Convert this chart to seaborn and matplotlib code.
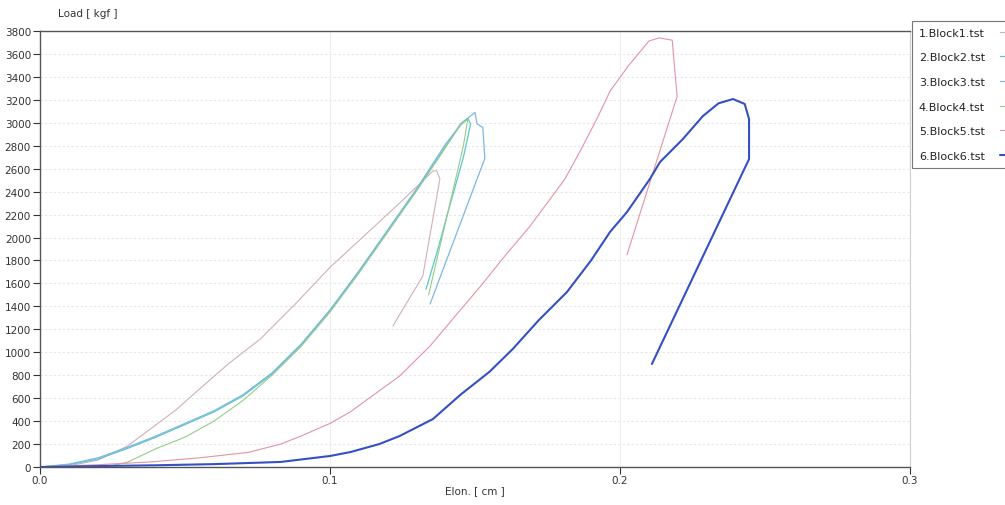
import matplotlib
matplotlib.use("Agg")
import matplotlib.pyplot as plt
import seaborn as sns
import pandas as pd
from matplotlib.lines import Line2D

# ---- data ----
names = ["1.Block1.tst", "2.Block2.tst", "3.Block3.tst",
         "4.Block4.tst", "5.Block5.tst", "6.Block6.tst"]

b1_x = [0, 0.01, 0.02, 0.03, 0.038, 0.047, 0.055, 0.065, 0.076, 0.088, 0.1,
        0.112, 0.124, 0.131, 0.1355, 0.1368, 0.1379, 0.132, 0.1217]
b1_y = [0, 10, 60, 180, 330, 500, 680, 900, 1116, 1420, 1740,
        2020, 2300, 2470, 2580, 2582, 2510, 1665, 1230]

b2_x = [0, 0.01, 0.02, 0.03, 0.04, 0.05, 0.06, 0.07, 0.08, 0.09, 0.1, 0.11,
        0.12, 0.13, 0.14, 0.145, 0.1475, 0.1485, 0.146, 0.141, 0.137, 0.1331]
b2_y = [0, 20, 70, 160, 260, 370, 480, 620, 810, 1060, 1360, 1700,
        2060, 2420, 2800, 2990, 3040, 2990, 2700, 2250, 1880, 1550]

b3_x = [0, 0.01, 0.02, 0.03, 0.04, 0.05, 0.06, 0.07, 0.08, 0.09, 0.1, 0.11,
        0.12, 0.13, 0.14, 0.146, 0.15, 0.1507, 0.1527, 0.1534, 0.144, 0.1345]
b3_y = [0, 25, 80, 170, 270, 380, 490, 630, 820, 1070, 1370, 1710,
        2070, 2430, 2820, 3010, 3090, 2990, 2960, 2690, 2060, 1420]

b4_x = [0, 0.015, 0.024, 0.03, 0.04, 0.05, 0.06, 0.07, 0.08, 0.09, 0.1, 0.11,
        0.12, 0.13, 0.14, 0.145, 0.1475, 0.146, 0.14, 0.134]
b4_y = [0, 0, 9, 40, 160, 260, 400, 580, 800, 1050, 1350, 1690,
        2050, 2410, 2790, 2980, 3030, 2800, 2150, 1500]

b5_x = [0, 0.02, 0.038, 0.055, 0.072, 0.083, 0.09, 0.1, 0.107, 0.124, 0.1345,
        0.143, 0.152, 0.16, 0.169, 0.181, 0.1862, 0.192, 0.1966, 0.203, 0.21,
        0.2135, 0.218, 0.2197, 0.2024]
b5_y = [0, 20, 44, 80, 128, 200, 270, 380, 480, 793, 1055,
        1310, 1578, 1830, 2100, 2510, 2750, 3033, 3277, 3500, 3713,
        3740, 3720, 3230, 1850]

b6_x = [0, 0.02, 0.04, 0.06, 0.083, 0.1, 0.107, 0.117, 0.124, 0.1355, 0.145,
        0.155, 0.163, 0.172, 0.1817, 0.19, 0.1966, 0.2024, 0.2103, 0.2138,
        0.2217, 0.2286, 0.234, 0.239, 0.243, 0.2445, 0.2445, 0.211]
b6_y = [0, 8, 15, 25, 44, 96, 130, 200, 270, 418, 630,
        830, 1028, 1280, 1525, 1800, 2050, 2222, 2510, 2658,
        2859, 3059, 3170, 3207, 3164, 3033, 2684, 898]

colors = ["#cdb0bc", "#5cc6c6", "#7cb8e2", "#95cc8a", "#e493a3", "#3450c2"]
widths = [0.8, 0.9, 0.9, 0.8, 0.8, 1.5]

x_ticks = [0.0, 0.1, 0.2, 0.3]
x_tick_labels = ["0.0", "0.1", "0.2", "0.3"]
y_ticks = list(range(0, 3801, 200))

# ---- build long table ----
frames = []
for n, xs, ys in zip(names, [b1_x, b2_x, b3_x, b4_x, b5_x, b6_x],
                     [b1_y, b2_y, b3_y, b4_y, b5_y, b6_y]):
    frames.append(pd.DataFrame({"x": xs, "y": ys, "name": n}))
df = pd.concat(frames, ignore_index=True)

sns.set_theme(style="white")
plt.rcParams["font.family"] = ["DejaVu Sans"]

fig = plt.figure(figsize=(10.05, 5.06), dpi=100)
ax = fig.add_axes([40 / 1005, 38 / 506, 870 / 1005, 436 / 506])

# faint grid
for yv in y_ticks[1:]:
    ax.axhline(yv, color="#e6e6e6", lw=0.8, ls=(0, (2, 2)), zorder=0)
for xv in [0.1, 0.2]:
    ax.axvline(xv, color="#eeeeee", lw=0.8, zorder=0)

for n, c, w in zip(names, colors, widths):
    sub = df[df["name"] == n]
    sns.lineplot(data=sub, x="x", y="y", sort=False, estimator=None,
                 color=c, lw=w, ax=ax, label=n, legend=False)

ax.set_xlim(0, 0.3)
ax.set_ylim(0, 3800)
ax.set_xticks(x_ticks)
ax.set_xticklabels(x_tick_labels)
ax.set_yticks(y_ticks)
ax.set_yticklabels([str(v) for v in y_ticks])
ax.tick_params(axis="both", which="both", labelsize=7.5, colors="#333333",
               direction="out", length=5, width=0.8, pad=1.5,
               left=True, bottom=True)
ax.tick_params(axis="x", pad=1)

for s in ["left", "top", "bottom"]:
    ax.spines[s].set_color("#555555")
    ax.spines[s].set_linewidth(1.0)
ax.spines["right"].set_color("#cfcfcf")
ax.spines["right"].set_linewidth(0.8)

ax.set_xlabel("Elon. [ cm ]", fontsize=7.5, color="#333333", labelpad=0)
ax.set_ylabel("Load [ kgf ]", fontsize=7.5, color="#333333", rotation=0,
              ha="left", va="bottom")
ax.yaxis.set_label_coords(0.021, 1.03)

handles = [Line2D([0], [0], color=c, lw=w) for c, w in zip(colors, widths)]
leg = fig.legend(handles, names, loc="upper left",
                 bbox_to_anchor=(912 / 1005, 1 - 22 / 506),
                 fontsize=8, frameon=True, fancybox=False,
                 markerfirst=False, handlelength=2.0, handletextpad=1.4,
                 labelspacing=1.32, borderpad=0.6, borderaxespad=0)
leg.get_frame().set_edgecolor("#555555")
leg.get_frame().set_linewidth(0.8)
for t in leg.get_texts():
    t.set_color("#222222")

fig.savefig("out.png", dpi=100)
